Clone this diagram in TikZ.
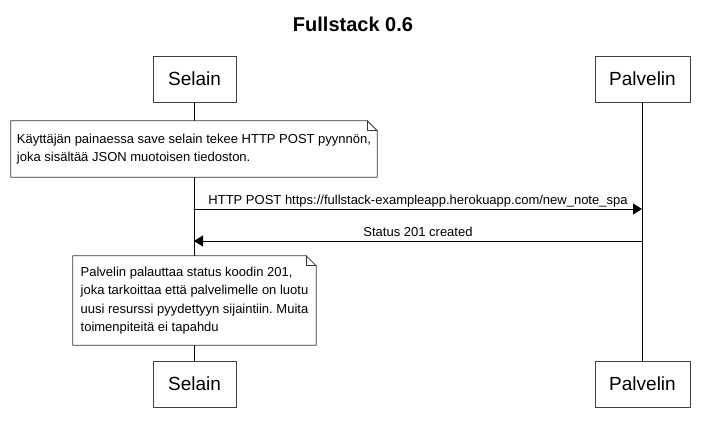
\documentclass[tikz,border=0pt]{standalone}
\usepackage{fontspec}
\setmainfont{Liberation Sans}
\usetikzlibrary{arrows.meta}
\usetikzlibrary{positioning}
\frenchspacing

\begin{document}
\begin{tikzpicture}[line cap=round,line join=round,>={Triangle[length=9pt,width=11pt]},x=1pt,y=-1pt,
    actor/.style={draw=black!75,fill=white,line width=0.9pt,minimum height=46pt,inner sep=0pt,font=\fontsize{19}{22}\selectfont},
    notetext/.style={fill=white,inner xsep=6pt,inner ysep=0pt,align=left,font=\fontsize{13}{18.5}\selectfont},
    noteline/.style={draw=black!80,line width=0.8pt},
    lifeline/.style={draw=black,line width=0.8pt},
    msg/.style={->,draw=black,line width=0.9pt},
    msglabel/.style={anchor=base,inner sep=0pt,yshift=4.5pt,font=\fontsize{13}{15}\selectfont}]
      \useasboundingbox (0,0) rectangle (705,436);
      \node[font=\bfseries\fontsize{20}{24}\selectfont] (title) at (353,24) {Fullstack 0.6};
      % participants
      \node[actor,minimum width=83pt] (selainTop) at (194.5,79) {Selain};
      \node[actor,minimum width=95pt] (palvelinTop) at (642.5,79) {Palvelin};
      \node[actor,minimum width=83pt] (selainBot) at (194.5,384) {Selain};
      \node[actor,minimum width=95pt] (palvelinBot) at (642.5,384) {Palvelin};
      \draw[lifeline] (selainTop.south) -- (selainBot.north);
      \draw[lifeline] (palvelinTop.south) -- (palvelinBot.north);
      % notes
      \node[notetext,minimum width=366pt,minimum height=56pt] (noteSave) at (194,149)
        {Käyttäjän painaessa save selain tekee HTTP POST pyynnön,\\joka sisältää JSON muotoisen tiedoston.};
      \node[notetext,minimum width=243pt,minimum height=89pt] (noteStatus) at (194.5,300.5)
        {Palvelin palauttaa status koodin 201,\\joka tarkoittaa että palvelimelle on luotu\\uusi resurssi pyydettyyn sijaintiin. Muita\\toimenpiteitä ei tapahdu};
      \foreach \n in {noteSave,noteStatus}
      {
        \draw[noteline] (\n.north west) -- ([xshift=-10pt]\n.north east) -- ([yshift=-10pt]\n.north east)
          -- (\n.south east) -- (\n.south west) -- cycle;
        \draw[noteline] ([xshift=-10pt]\n.north east) -- ([xshift=-10pt,yshift=-10pt]\n.north east) -- ([yshift=-10pt]\n.north east);
      }
      % messages
      \coordinate (postFrom) at (194,209);
      \coordinate (postTo) at (642,209);
      \coordinate (statusFrom) at (642,241);
      \coordinate (statusTo) at (194,241);
      \draw[msg] (postFrom) -- (postTo) node[midway,msglabel] {HTTP POST https://fullstack-exampleapp.herokuapp.com/new\_note\_spa};
      \draw[msg] (statusFrom) -- (statusTo) node[midway,msglabel] {Status 201 created};
    \end{tikzpicture}
\end{document}
